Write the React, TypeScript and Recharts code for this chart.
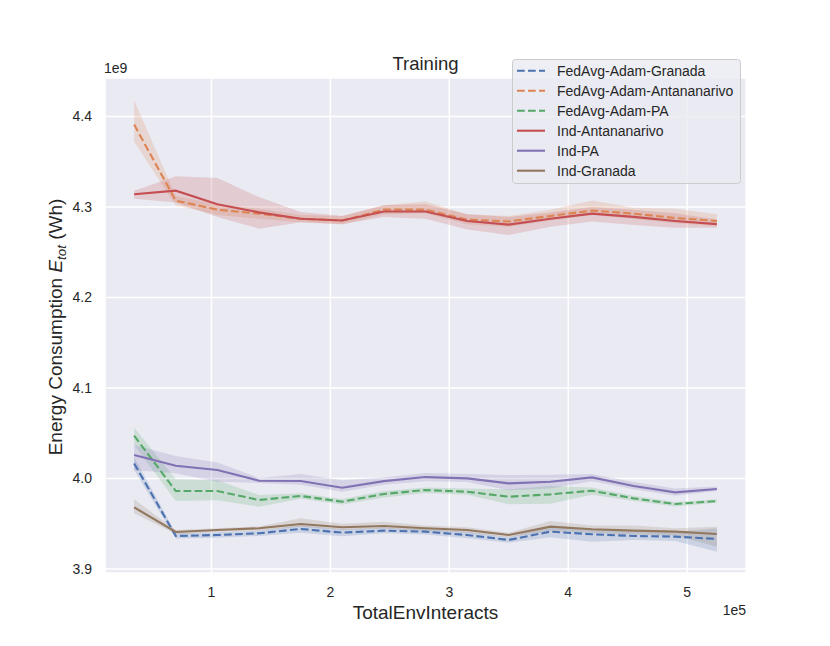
import React from 'react';
import { ComposedChart, Line, Area, XAxis, YAxis, CartesianGrid } from 'recharts';

// x: TotalEnvInteracts ; y values in units of 1e9 Wh
const interacts = [35000, 70000, 105000, 140000, 175000, 210000, 245000, 280000, 315000, 350000, 385000, 420000, 455000, 490000, 525000];

const fedGranadaMean = [4.0166, 3.9364, 3.9375, 3.9394, 3.9442, 3.9401, 3.9423, 3.9412, 3.9375, 3.932, 3.9412, 3.9383, 3.9364, 3.9357, 3.9331];
const fedGranadaLo = [4.0093, 3.9335, 3.9345, 3.9364, 3.94, 3.936, 3.9393, 3.938, 3.934, 3.929, 3.935, 3.93, 3.932, 3.931, 3.919];
const fedGranadaHi = [4.0233, 3.9395, 3.9405, 3.9424, 3.948, 3.944, 3.9453, 3.944, 3.941, 3.935, 3.947, 3.944, 3.942, 3.941, 3.945];

const fedAntaMean = [4.391, 4.307, 4.297, 4.2926, 4.287, 4.285, 4.297, 4.297, 4.286, 4.284, 4.29, 4.296, 4.2926, 4.2878, 4.2845];
const fedAntaLo = [4.372, 4.302, 4.291, 4.287, 4.283, 4.281, 4.292, 4.293, 4.281, 4.278, 4.285, 4.291, 4.287, 4.282, 4.279];
const fedAntaHi = [4.418, 4.312, 4.303, 4.298, 4.291, 4.29, 4.302, 4.306, 4.292, 4.29, 4.297, 4.307, 4.299, 4.298, 4.292];

const fedPAMean = [4.0472, 3.9861, 3.9861, 3.9762, 3.9806, 3.9743, 3.9828, 3.9872, 3.9853, 3.9798, 3.9824, 3.9864, 3.978, 3.9717, 3.975];
const fedPALo = [4.0369, 3.975, 3.976, 3.9688, 3.9776, 3.9713, 3.979, 3.984, 3.982, 3.9714, 3.972, 3.982, 3.975, 3.969, 3.973];
const fedPAHi = [4.0564, 3.999, 3.998, 3.9817, 3.9836, 3.9773, 3.986, 3.99, 3.989, 3.988, 3.9916, 3.99, 3.981, 3.974, 3.977];

const indAntaMean = [4.314, 4.318, 4.303, 4.294, 4.287, 4.285, 4.295, 4.295, 4.2845, 4.2805, 4.287, 4.2926, 4.289, 4.2845, 4.281];
const indAntaLo = [4.309, 4.305, 4.289, 4.276, 4.283, 4.281, 4.289, 4.287, 4.275, 4.269, 4.278, 4.284, 4.28, 4.277, 4.277];
const indAntaHi = [4.318, 4.334, 4.332, 4.311, 4.2944, 4.29, 4.302, 4.303, 4.292, 4.289, 4.294, 4.3, 4.297, 4.293, 4.286];

const indPAMean = [4.0258, 4.014, 4.0093, 3.9975, 3.9971, 3.9898, 3.997, 4.0015, 4.0001, 3.9945, 3.9963, 4.0012, 3.9916, 3.9846, 3.9883];
const indPALo = [4.009, 4.0056, 3.9964, 3.995, 3.993, 3.9853, 3.993, 3.997, 3.996, 3.987, 3.989, 3.997, 3.988, 3.981, 3.986];
const indPAHi = [4.0369, 4.0247, 4.0177, 4.0005, 4.005, 3.998, 4.001, 4.006, 4.005, 4.0037, 4.004, 4.005, 3.996, 3.989, 3.991];

const indGranadaMean = [3.9681, 3.9408, 3.943, 3.9449, 3.9497, 3.946, 3.9475, 3.9449, 3.943, 3.9375, 3.9467, 3.9438, 3.9423, 3.9412, 3.9386];
const indGranadaLo = [3.9615, 3.9385, 3.941, 3.9425, 3.9467, 3.943, 3.9445, 3.942, 3.94, 3.935, 3.942, 3.94, 3.938, 3.937, 3.9246];
const indGranadaHi = [3.9769, 3.943, 3.945, 3.947, 3.956, 3.95, 3.952, 3.948, 3.946, 3.94, 3.953, 3.948, 3.948, 3.945, 3.9467];

const xTicks = [100000, 200000, 300000, 400000, 500000];
const yTicks = [3.9, 4.0, 4.1, 4.2, 4.3, 4.4];

const seriesNames = ['FedAvg-Adam-Granada', 'FedAvg-Adam-Antananarivo', 'FedAvg-Adam-PA', 'Ind-Antananarivo', 'Ind-PA', 'Ind-Granada'];
const seriesColors = ['#4C72B0', '#DD8452', '#55A868', '#C44E52', '#8172B3', '#937860'];
const seriesDashed = [true, true, true, false, false, false];

const means = [fedGranadaMean, fedAntaMean, fedPAMean, indAntaMean, indPAMean, indGranadaMean];
const los = [fedGranadaLo, fedAntaLo, fedPALo, indAntaLo, indPALo, indGranadaLo];
const his = [fedGranadaHi, fedAntaHi, fedPAHi, indAntaHi, indPAHi, indGranadaHi];

const data = interacts.map((x, i) => {
  const row: any = { x };
  means.forEach((m, s) => {
    row['m' + s] = m[i];
    row['b' + s] = [los[s][i], his[s][i]];
  });
  return row;
});

const FONT = '"Liberation Sans", Arial, "DejaVu Sans", sans-serif';
const TEXT = '#262626';
const DASH = '7.7 3.3';

export default function App() {
  const tickStyle = { fill: TEXT, fontSize: 14, fontFamily: FONT };
  return (
    <div style={{ position: 'absolute', left: 0, top: 0, width: 830, height: 646, background: '#ffffff', fontFamily: FONT }}>
      <ComposedChart width={830} height={646} data={data} margin={{ top: 78, right: 84, bottom: 43, left: 45 }}>
        <CartesianGrid stroke="#ffffff" strokeWidth={1.5} fill="#EAEAF2" fillOpacity={1} />
        <XAxis
          type="number"
          dataKey="x"
          domain={[10500, 549500]}
          ticks={xTicks}
          allowDataOverflow
          tickFormatter={(v: number) => String(Math.round(v / 1e5))}
          axisLine={false}
          tickLine={false}
          tickSize={0}
          tickMargin={14}
          height={30}
          tick={tickStyle}
        />
        <YAxis
          type="number"
          domain={[3.8955, 4.4425]}
          ticks={yTicks}
          allowDataOverflow
          tickFormatter={(v: number) => v.toFixed(1)}
          axisLine={false}
          tickLine={false}
          tickSize={0}
          tickMargin={13}
          width={60}
          tick={tickStyle}
        />
        {seriesNames.map((n, s) => (
          <Area
            key={'b' + s}
            type="linear"
            dataKey={'b' + s}
            stroke="none"
            fill={seriesColors[s]}
            fillOpacity={0.2}
            isAnimationActive={false}
            dot={false}
            activeDot={false}
          />
        ))}
        {seriesNames.map((n, s) => (
          <Line
            key={'m' + s}
            type="linear"
            dataKey={'m' + s}
            stroke={seriesColors[s]}
            strokeWidth={2.1}
            strokeDasharray={seriesDashed[s] ? DASH : undefined}
            dot={false}
            activeDot={false}
            isAnimationActive={false}
          />
        ))}
      </ComposedChart>
      <svg width={830} height={646} style={{ position: 'absolute', left: 0, top: 0, pointerEvents: 'none' }} fontFamily={FONT}>
        <text x={425.5} y={70} textAnchor="middle" fontSize={18.5} fill={TEXT}>Training</text>
        <text x={104} y={73} fontSize={14} fill={TEXT}>1e9</text>
        <text x={746} y={615} textAnchor="end" fontSize={14} fill={TEXT}>1e5</text>
        <text x={425.5} y={619} textAnchor="middle" fontSize={19} fill={TEXT}>TotalEnvInteracts</text>
        <text x={0} y={0} transform="translate(62, 327) rotate(-90)" textAnchor="middle" fontSize={19} fill={TEXT}>
          <tspan>Energy Consumption </tspan>
          <tspan fontStyle="italic">E</tspan>
          <tspan fontStyle="italic" fontSize={13.3} dy={4}>tot</tspan>
          <tspan dy={-4}> (Wh)</tspan>
        </text>
        <rect x={512.5} y={59.5} width={228} height={124} rx={3} fill="rgba(234,234,242,0.8)" stroke="#cccccc" strokeWidth={1} />
        {seriesNames.map((n, s) => {
          const cy = 70.7 + 20 * s;
          return (
            <g key={'lg' + s}>
              <line x1={517} x2={545} y1={cy} y2={cy} stroke={seriesColors[s]} strokeWidth={2.1} strokeDasharray={seriesDashed[s] ? DASH : undefined} />
              <text x={557} y={cy + 5} fontSize={14} fill={TEXT}>{n}</text>
            </g>
          );
        })}
      </svg>
    </div>
  );
}
